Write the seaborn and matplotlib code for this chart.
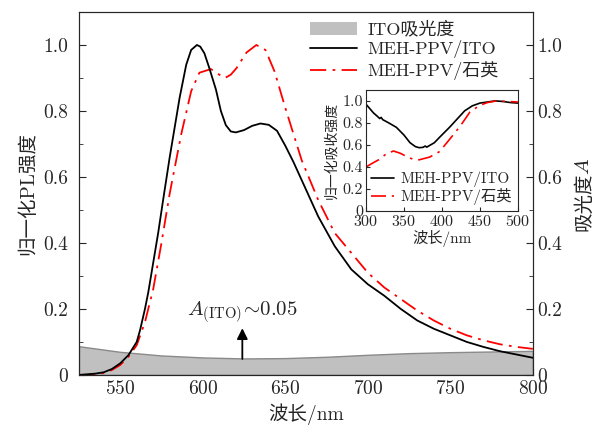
import numpy as np
import matplotlib
matplotlib.use('Agg')
import matplotlib.pyplot as plt
import seaborn as sns
from matplotlib.patches import Patch
from matplotlib.lines import Line2D
from matplotlib.ticker import MultipleLocator, FuncFormatter

# main PL spectra
wl_black = [525, 530, 535, 540, 545, 550, 555, 560, 562, 565, 567, 570, 573, 576, 580, 583,
            586, 590, 593, 596.5, 598.5, 601, 604, 608, 611, 614, 617, 620, 625, 630, 635,
            640, 645, 650, 655, 660, 670, 680, 690, 700, 710, 720, 730, 740, 750, 760, 770,
            780, 790, 800]
pl_black = [0.0, 0.002, 0.004, 0.008, 0.018, 0.035, 0.06, 0.1, 0.135, 0.2, 0.25, 0.34, 0.43,
            0.53, 0.66, 0.75, 0.84, 0.94, 0.985, 1.0, 0.995, 0.975, 0.93, 0.865, 0.80, 0.757,
            0.738, 0.735, 0.742, 0.755, 0.762, 0.758, 0.74, 0.695, 0.645, 0.59, 0.48, 0.39,
            0.32, 0.275, 0.24, 0.2, 0.165, 0.14, 0.12, 0.1, 0.085, 0.072, 0.062, 0.052]

wl_red = [525, 530, 535, 540, 545, 550, 555, 560, 565, 570, 575, 580, 587, 593, 598, 605,
          610, 613.5, 617, 620.5, 626.5, 632.5, 638, 643.5, 650, 655, 660, 670, 680,
          690, 700, 710, 720, 730, 740, 750, 760, 770, 780, 790, 800]
pl_red = [0.0, 0.0, 0.002, 0.006, 0.015, 0.03, 0.055, 0.09, 0.16, 0.26, 0.4, 0.55, 0.73,
          0.86, 0.916, 0.927, 0.91, 0.90, 0.91, 0.93, 0.977, 1.0, 0.985, 0.92, 0.81, 0.73,
          0.65, 0.53, 0.43, 0.37, 0.31, 0.265, 0.23, 0.195, 0.165, 0.14, 0.12, 0.105, 0.093,
          0.085, 0.079]

# ITO absorbance
wl_ito = [525, 550, 575, 600, 625, 650, 675, 700, 725, 750, 775, 800]
a_ito = [0.087, 0.07, 0.059, 0.053, 0.05, 0.051, 0.055, 0.061, 0.066, 0.069, 0.071, 0.073]

# inset absorption spectra
wl_abs_black = [300, 305, 310, 315, 318, 320, 322, 330, 340, 350, 358, 365, 370, 375, 378,
                380, 390, 397, 410, 420, 430, 440, 450, 460, 470, 480, 490, 500]
abs_black = [0.97, 0.93, 0.89, 0.86, 0.84, 0.85, 0.83, 0.80, 0.76, 0.69, 0.62, 0.585, 0.575,
             0.578, 0.59, 0.58, 0.62, 0.67, 0.76, 0.835, 0.91, 0.955, 0.98, 0.99, 1.0, 0.995,
             0.985, 0.98]
wl_abs_red = [300, 310, 318, 325, 336, 345, 355, 362, 370, 384, 397, 410, 424, 437, 450,
              460, 472, 485, 500]
abs_red = [0.40, 0.44, 0.47, 0.51, 0.545, 0.525, 0.49, 0.47, 0.465, 0.49, 0.54, 0.65, 0.77,
           0.90, 0.96, 0.985, 1.0, 0.995, 0.99]

sns.set_style('ticks')
plt.rcParams['font.family'] = ['cmr10', 'Noto Sans CJK SC']
plt.rcParams['mathtext.fontset'] = 'cm'
plt.rcParams['axes.formatter.use_mathtext'] = True
plt.rcParams['xtick.direction'] = 'in'
plt.rcParams['ytick.direction'] = 'in'

red_ls = (0, (9, 3.5, 1.5, 3.5))
fmt = FuncFormatter(lambda v, p: '0' if abs(v) < 1e-9 else f'{v:.1f}')

fig = plt.figure(figsize=(5.98, 4.28), dpi=100)
ax = fig.add_axes([0.132, 0.124, 0.759, 0.848])

ax.fill_between(wl_ito, a_ito, 0, color='#c0c0c0', edgecolor='#8a8a8a', linewidth=1.0, zorder=1)
sns.lineplot(x=wl_black, y=pl_black, ax=ax, color='black', linewidth=1.3, zorder=3)
sns.lineplot(x=wl_red, y=pl_red, ax=ax, color='red', linewidth=1.3, linestyle=red_ls, zorder=2)

ax.set_xlim(525, 800)
ax.set_ylim(0, 1.1)
ax.xaxis.set_major_locator(MultipleLocator(50))
ax.xaxis.set_minor_locator(MultipleLocator(25))
ax.yaxis.set_major_locator(MultipleLocator(0.2))
ax.yaxis.set_minor_locator(MultipleLocator(0.1))
ax.yaxis.set_major_formatter(fmt)
ax.tick_params(which='major', length=5, labelsize=14)
ax.tick_params(which='minor', length=3)
ax.tick_params(axis='y', pad=8)
ax.set_xlabel('波长/nm', fontsize=14)
ax.set_ylabel('归一化PL强度', fontsize=14)

ax2 = ax.twinx()
ax2.set_ylim(0, 1.1)
ax2.yaxis.set_major_locator(MultipleLocator(0.2))
ax2.yaxis.set_minor_locator(MultipleLocator(0.1))
ax2.yaxis.set_major_formatter(fmt)
ax2.tick_params(which='major', length=5, labelsize=14, direction='in')
ax2.tick_params(which='minor', length=3, direction='in')
# right label: chinese part plus italic A as separate texts
fig.text(584 / 598, 1 - 202 / 428, '吸光度', rotation=90, fontsize=14, ha='center', va='center')
fig.text(584 / 598, 1 - 166 / 428, '$A$', rotation=90, fontsize=15, ha='center', va='center')

ax.annotate('', xy=(624, 0.15), xytext=(624, 0.04),
            arrowprops=dict(arrowstyle='-|>', color='black', lw=1.3, mutation_scale=16))
ax.text(624, 0.15, r'$A_{\rm (ITO)}\!\sim\!0.05$', fontsize=15, ha='center', va='bottom')

handles = [Patch(facecolor='#c0c0c0', edgecolor='none'),
           Line2D([], [], color='black', lw=1.3),
           Line2D([], [], color='red', lw=1.3, linestyle=red_ls)]
labels = ['ITO吸光度', 'MEH-PPV/ITO', 'MEH-PPV/石英']
ax.legend(handles, labels, loc='upper right', bbox_to_anchor=(0.945, 1.0), frameon=False,
          fontsize=13, borderaxespad=0.1, handlelength=2.6, labelspacing=0.15, handletextpad=0.6)

# inset
axi = fig.add_axes([0.612, 0.507, 0.254, 0.283])
sns.lineplot(x=wl_abs_black, y=abs_black, ax=axi, color='black', linewidth=1.2)
sns.lineplot(x=wl_abs_red, y=abs_red, ax=axi, color='red', linewidth=1.2, linestyle=red_ls)
axi.set_xlim(300, 500)
axi.set_ylim(0, 1.1)
axi.xaxis.set_major_locator(MultipleLocator(50))
axi.yaxis.set_major_locator(MultipleLocator(0.2))
axi.yaxis.set_major_formatter(fmt)
axi.tick_params(labelsize=11.5, length=3, pad=2)
axi.set_xlabel('波长/nm', fontsize=11, labelpad=1)
axi.set_ylabel('归一化吸收强度', fontsize=10, labelpad=3)
ih = [Line2D([], [], color='black', lw=1.2), Line2D([], [], color='red', lw=1.2, linestyle=red_ls)]
axi.legend(ih, ['MEH-PPV/ITO', 'MEH-PPV/石英'], loc='lower right', frameon=False, fontsize=11,
           borderaxespad=0.0, handlelength=1.5, labelspacing=0.05, handletextpad=0.4)

fig.savefig('out.png', dpi=100)
